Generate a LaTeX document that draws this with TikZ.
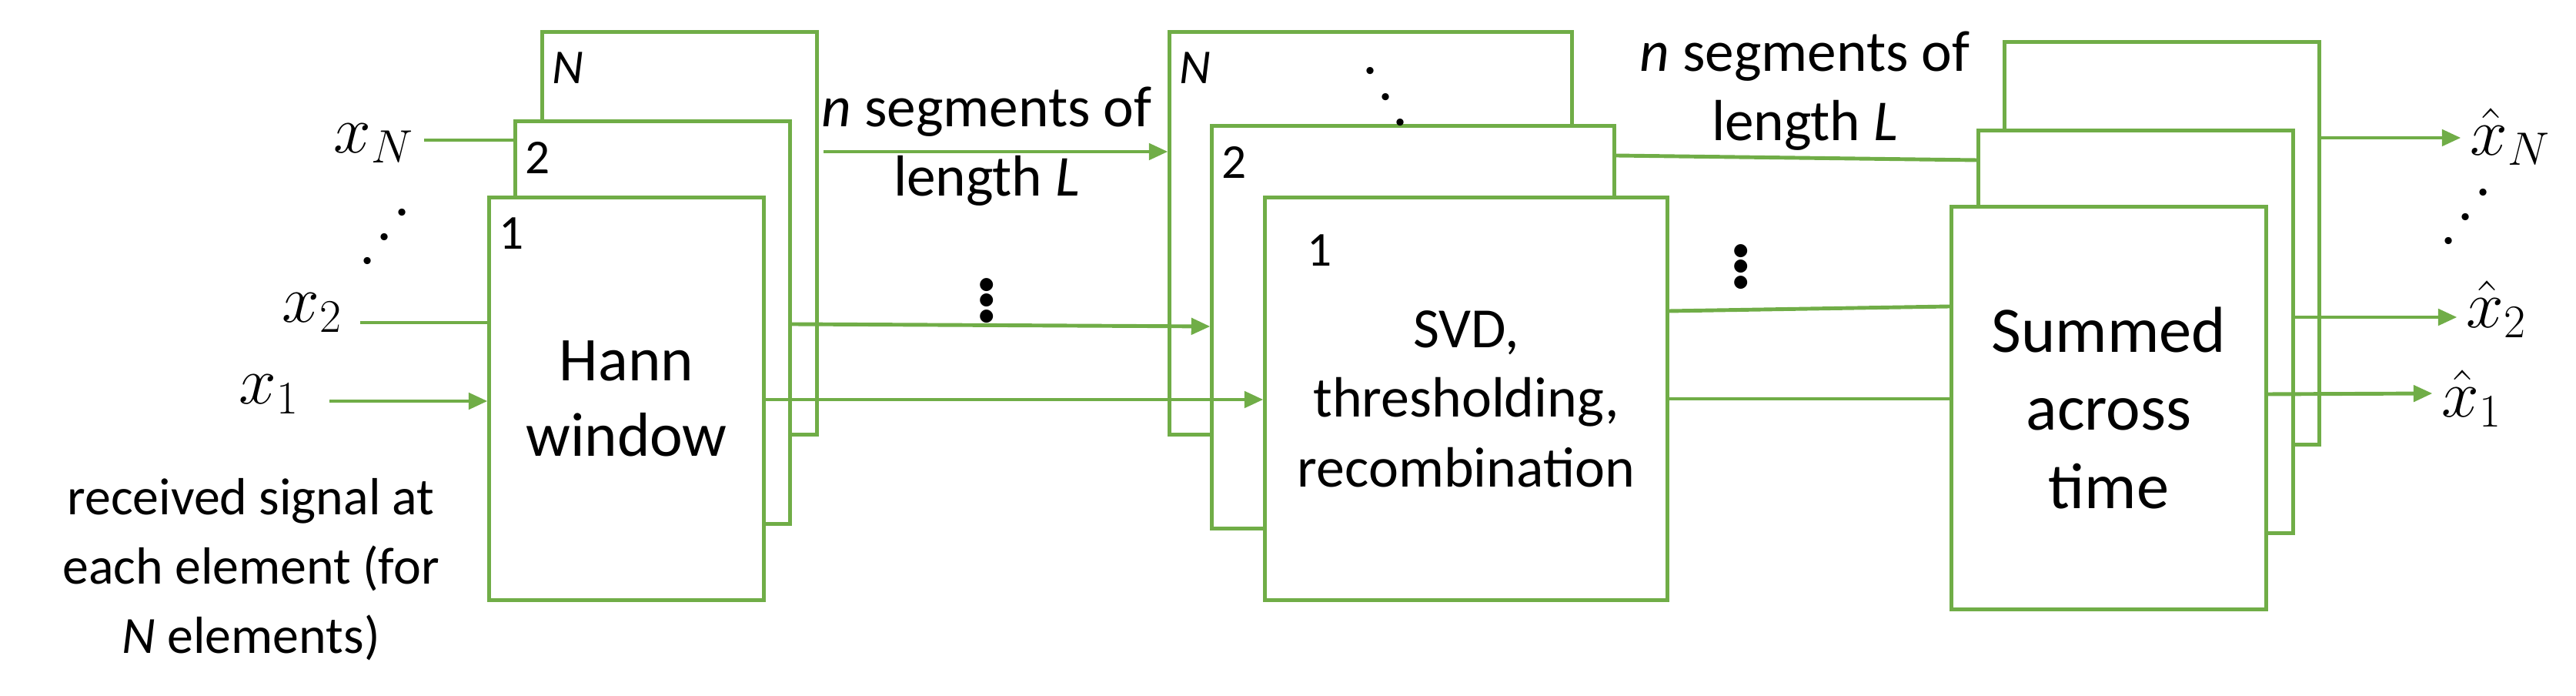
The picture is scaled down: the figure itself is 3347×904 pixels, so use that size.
\documentclass[tikz,border=0pt]{standalone}
\usepackage{fontspec}
\setmainfont{Carlito}
\usetikzlibrary{arrows.meta}
\definecolor{grn}{HTML}{70AD47}

\begin{document}
\begin{tikzpicture}[x=0.01cm,y=-0.01cm,
    blk/.style={draw=grn,line width=1.4pt,fill=white,inner sep=0pt},
    hann/.style={blk,minimum width=3.56cm,minimum height=5.22cm},
    svd/.style={blk,minimum width=5.22cm,minimum height=5.22cm},
    summ/.style={blk,minimum width=4.08cm,minimum height=5.22cm},
    idx/.style={anchor=north west,inner sep=0pt,xshift=4pt,yshift=-8pt,
      font=\fontsize{18}{20}\selectfont},
    wire/.style={draw=grn,line width=1.4pt},
    arr/.style={wire,-{Triangle[length=7pt,width=6pt]}},
    sig/.style={font=\fontsize{26}{30}\selectfont},
    vdots/.style={font=\fontsize{40}{40}\selectfont}
  ]
  \useasboundingbox (0,0) rectangle (3347,904);
  % window stack
  \node[hann] (hN) at (883,303) {};
  \node[hann] (h2) at (848,419) {};
  \node[hann,align=center,font=\fontsize{23}{28}\selectfont] (h1) at (814,518) {Hann\\window};
  \node[idx] at (hN.north west) {\textit{N}};
  \node[idx] at (h2.north west) {2};
  \node[idx] at (h1.north west) {1};
  % svd stack
  \node[svd] (sN) at (1781,303) {};
  \node[svd] (s2) at (1836,425) {};
  \node[svd,align=center,font=\fontsize{21}{25.7}\selectfont] (s1) at (1905,518)
    {SVD,\\thresholding,\\recombination};
  \node[idx] at (sN.north west) {\textit{N}};
  \node[idx] at (s2.north west) {2};
  \node[idx,xshift=12pt,yshift=-6pt] at (s1.north west) {1};
  \node[vdots,rotate=-60] at (1798,127) {$\cdots$};
  % sum stack
  \node[summ] (uN) at (2809,316) {};
  \node[summ] (u2) at (2775,431) {};
  \node[summ,align=center,font=\fontsize{24}{29}\selectfont] (u1) at (2740,530)
    {Summed\\across\\time};

  % inputs
  \node[sig] (xN) at (486,186) {$x_N$};
  \node[sig] (x2) at (406,406) {$x_2$};
  \node[sig] (x1) at (350,512) {$x_1$};
  \node[vdots,rotate=55] at (502,309) {$\cdots$};
  \node[align=center,font=\fontsize{19.3}{25.6}\selectfont] (rx) at (326,740)
    {received signal at\\each element (for\\\textit{N} elements)};
  \coordinate (xNe) at (551,182);
  \coordinate (x2e) at (468,419);
  \coordinate (x1e) at (428,521);
  \draw[wire] (xNe) -- (xNe -| h2.west);
  \draw[wire] (x2e) -- (x2e -| h1.west);
  \draw[arr] (x1e) -- (x1e -| h1.west);

  % window -> svd
  \coordinate (aN) at (1070,197);
  \draw[arr] (aN) -- (aN -| sN.west);
  \draw[arr] (h2.east |- 0,421) -- (s2.west |- 0,424);
  \draw[arr] (h1.east |- 0,519) -- (s1.west |- 0,519);
  \node[align=center,font=\fontsize{21.4}{25.6}\selectfont] (segA) at (1282,190)
    {\textit{n} segments of\\length \textit{L}};
  \node[vdots] at (1282,380) {$\vdots$};

  % svd -> sum
  \draw[wire] (s2.east |- 0,202) -- (u2.west |- 0,208);
  \draw[wire] (s1.east |- 0,404) -- (u1.west |- 0,398);
  \draw[wire] (s1.east |- 0,518) -- (u1.west |- 0,518);
  \node[align=center,font=\fontsize{21.4}{25.6}\selectfont] (segB) at (2345,118)
    {\textit{n} segments of\\length \textit{L}};
  \node[vdots] at (2262,336) {$\vdots$};

  % outputs
  \node[sig] (yN) at (3262,178) {$\hat{x}_N$};
  \node[sig] (y2) at (3244,402) {$\hat{x}_2$};
  \node[sig] (y1) at (3212,518) {$\hat{x}_1$};
  \node[vdots,rotate=55] at (3206,283) {$\cdots$};
  \draw[arr] (uN.east |- 0,179) -- (yN.west |- 0,179);
  \draw[arr] (u2.east |- 0,412) -- (y2.west |- 0,412);
  \draw[arr] (u1.east |- 0,512) -- (y1.west |- 0,511);
\end{tikzpicture}
\end{document}
